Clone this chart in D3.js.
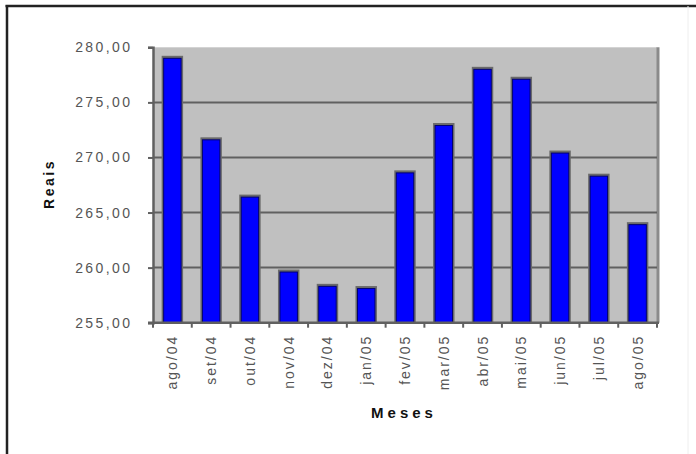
<!DOCTYPE html>
<html>
<head>
<meta charset="utf-8">
<script src="https://cdn.jsdelivr.net/npm/d3@7"></script>
<style>
  html, body { margin: 0; padding: 0; background: #fff; }
  svg { display: block; }
  text { font-family: Arial, "Liberation Sans", sans-serif; }
</style>
</head>
<body>
<svg id="chart" width="696" height="454"></svg>
<script>
// ---- data ----
const months = ["ago/04","set/04","out/04","nov/04","dez/04","jan/05","fev/05","mar/05","abr/05","mai/05","jun/05","jul/05","ago/05"];
const values = [279.0, 271.6, 266.4, 259.6, 258.3, 258.1, 268.6, 272.9, 278.0, 277.1, 270.4, 268.3, 263.9];
const yTicks = [255, 260, 265, 270, 275, 280];
const yTitle = "Reais";
const xTitle = "Meses";

// ---- layout ----
const W = 696, H = 454;
const plot = { left: 153, right: 657, top: 47.3, bottom: 322.7 };

const svg = d3.select("#chart");

// outer frame
svg.append("line").attr("x1", 7).attr("x2", 7).attr("y1", 5).attr("y2", H)
  .attr("stroke", "#222").attr("stroke-width", 2.5);
svg.append("line").attr("x1", 5.5).attr("x2", W).attr("y1", 6).attr("y2", 6)
  .attr("stroke", "#222").attr("stroke-width", 2.5);
svg.append("line").attr("x1", 688).attr("x2", 688).attr("y1", 6).attr("y2", H)
  .attr("stroke", "#eee").attr("stroke-width", 1);

const x = d3.scaleBand().domain(months).range([plot.left, plot.right]).paddingInner(0.55).paddingOuter(0.275);
const y = d3.scaleLinear().domain([255, 280]).range([plot.bottom, plot.top]);

const fmt = d3.formatLocale({ decimal: ",", thousands: ".", grouping: [3], currency: ["R$", ""] }).format(".2f");

// plot background
svg.append("rect")
  .attr("x", plot.left).attr("y", plot.top)
  .attr("width", plot.right - plot.left).attr("height", plot.bottom - plot.top)
  .attr("fill", "#C0C0C0");
svg.append("line").attr("x1", plot.right + 1).attr("x2", plot.right + 1)
  .attr("y1", plot.top).attr("y2", plot.bottom)
  .attr("stroke", "#8a8a8a").attr("stroke-width", 3);

// gridlines
svg.append("g").selectAll("line").data(yTicks.filter(t => t > 255 && t < 280)).join("line")
  .attr("x1", plot.left).attr("x2", plot.right)
  .attr("y1", d => y(d)).attr("y2", d => y(d))
  .attr("stroke", "#606060").attr("stroke-width", 2);

// y axis
const yAxis = d3.axisLeft(y).tickValues(yTicks).tickSize(5).tickPadding(18).tickFormat(fmt);
const gy = svg.append("g").attr("transform", `translate(${plot.left},0)`).call(yAxis);
gy.select(".domain").attr("stroke", "#606060").attr("stroke-width", 2.5);
gy.selectAll(".tick line").attr("stroke", "#606060").attr("stroke-width", 2);
gy.selectAll(".tick text").attr("font-size", 14).attr("fill", "#555")
  .attr("letter-spacing", 2.4).attr("dx", 2.4);

// bars: shadow + fill
const bars = svg.append("g");
bars.selectAll("rect.sh").data(values).join("rect").attr("class", "sh")
  .attr("x", (d, i) => x(months[i]) - 2)
  .attr("y", d => y(d) - 2.5)
  .attr("width", x.bandwidth() + 4)
  .attr("height", d => plot.bottom - y(d) + 2.5)
  .attr("fill", "#6a6a6a");
bars.selectAll("rect.bar").data(values).join("rect").attr("class", "bar")
  .attr("x", (d, i) => x(months[i]))
  .attr("y", d => y(d))
  .attr("width", x.bandwidth())
  .attr("height", d => plot.bottom - y(d))
  .attr("fill", "#0000FF")
  .attr("stroke", "#000070").attr("stroke-width", 1);

// x axis
const gx = svg.append("g").attr("transform", `translate(0,${plot.bottom})`);
gx.append("line").attr("x1", plot.left - 5).attr("x2", plot.right + 2)
  .attr("y1", 0).attr("y2", 0).attr("stroke", "#606060").attr("stroke-width", 2.5);
const step = x.step();
const bounds = d3.range(months.length + 1).map(i => x(months[0]) - x.bandwidth() * 0 - (step - x.bandwidth()) / 2 + i * step);
gx.selectAll("line.tk").data(bounds).join("line").attr("class", "tk")
  .attr("x1", d => d).attr("x2", d => d).attr("y1", 0).attr("y2", 5)
  .attr("stroke", "#606060").attr("stroke-width", 2);
gx.selectAll("text").data(months).join("text")
  .attr("transform", d => `translate(${x(d) + x.bandwidth() / 2 + 5},12) rotate(-90)`)
  .attr("text-anchor", "end")
  .attr("font-size", 14).attr("fill", "#555").attr("letter-spacing", 2)
  .text(d => d);

// axis titles
svg.append("text")
  .attr("transform", `translate(54,184) rotate(-90)`)
  .attr("text-anchor", "middle").attr("font-size", 14).attr("font-weight", "bold")
  .attr("letter-spacing", 2.5).attr("fill", "#111")
  .text(yTitle);
svg.append("text")
  .attr("x", 404).attr("y", 418)
  .attr("text-anchor", "middle").attr("font-size", 15).attr("font-weight", "bold")
  .attr("letter-spacing", 4).attr("fill", "#111")
  .text(xTitle);
</script>
</body>
</html>
